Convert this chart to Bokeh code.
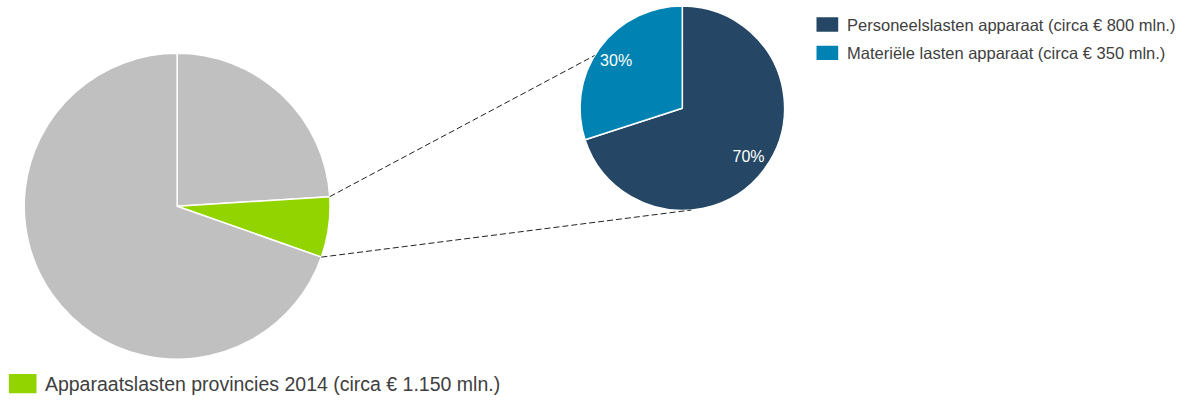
import numpy as np
from bokeh.plotting import figure
from bokeh.models import Range1d, ColumnDataSource
from bokeh.core.properties import value
from bokeh.embed import file_html
from bokeh.resources import INLINE

# ---- data ----
main_labels = ["Overige lasten A", "Apparaatslasten provincies 2014", "Overige lasten B"]
main_values = [24.0, 6.4, 69.6]
main_colors = ["#c0c0c0", "#92d400", "#c0c0c0"]

sub_labels = ["Personeelslasten apparaat (circa € 800 mln.)", "Materiële lasten apparaat (circa € 350 mln.)"]
sub_values = [70, 30]
sub_colors = ["#254765", "#0083b3"]
sub_pct = ["70%", "30%"]

main_legend = "Apparaatslasten provincies 2014 (circa € 1.150 mln.)"

W, H = 1187, 398
RW, RH = 1203, 414
SX, SY = W / RW, H / RH
SR = (SX + SY) / 2
FONT = "Liberation Sans"
TXT = "#404040"

p = figure(width=W, height=H, output_backend="svg", toolbar_location=None,
           x_range=Range1d(0, W), y_range=Range1d(0, H), min_border=0)
p.axis.visible = False
p.grid.visible = False
p.outline_line_color = None
p.background_fill_color = "white"

def px(xp):
    return xp * SX
def py(yp):
    return H - yp * SY

def pie(vals, colors, cx, cy, r):
    v = np.array(vals, dtype=float)
    frac = v / v.sum()
    cum = np.concatenate([[0], np.cumsum(frac)])
    a_start = np.deg2rad(90 - cum[:-1] * 360)
    a_end = np.deg2rad(90 - cum[1:] * 360)
    src = ColumnDataSource(dict(s=a_end, e=a_start, c=colors))
    p.wedge(x=cx, y=cy, radius=r, start_angle="s", end_angle="e", direction="anticlock",
            fill_color="c", line_color="white", line_width=1.5, source=src)
    return a_start, a_end

# big pie
bcx, bcy, br = px(179), py(214), 157 * SR
b_s, b_e = pie(main_values, main_colors, bcx, bcy, br)

# small pie
scx, scy, sr = px(691), py(112), 105 * SR
s_s, s_e = pie(sub_values, sub_colors, scx, scy, sr)

# percentage labels
mid = (s_s + s_e) / 2
p.text(x=scx + 0.8 * sr * np.cos(mid), y=scy + 0.8 * sr * np.sin(mid), text=sub_pct,
       text_font=value(FONT), text_font_size="16px", text_color="white",
       text_align="center", text_baseline="middle")

# connector lines (green slice edges -> small pie)
conn_angles = np.deg2rad([149, -85])
g0, g1 = b_s[1], b_e[1]
for ga, ca in [(g0, conn_angles[0]), (g1, conn_angles[1])]:
    p.line([bcx + br * np.cos(ga), scx + sr * np.cos(ca)],
           [bcy + br * np.sin(ga), scy + sr * np.sin(ca)],
           line_color="#222222", line_width=1, line_dash="6 3")

# top-right legend
ly = [py(25), py(54.5)]
p.rect(x=[px(838)] * 2, y=ly, width=22 * SX, height=15 * SY, fill_color=sub_colors, line_color=None)
p.text(x=[px(858)] * 2, y=ly, text=sub_labels, text_font=value(FONT), text_font_size="16.5px",
       text_color=TXT, text_align="left", text_baseline="middle")

# bottom legend
p.rect(x=[px(22.5)], y=[py(398.5)], width=28 * SX, height=20 * SY, fill_color=[main_colors[1]], line_color=None)
p.text(x=[px(45)], y=[py(399)], text=[main_legend], text_font=value(FONT), text_font_size="19.5px",
       text_color=TXT, text_align="left", text_baseline="middle")

open("out.html", "w").write(file_html(p, INLINE))
